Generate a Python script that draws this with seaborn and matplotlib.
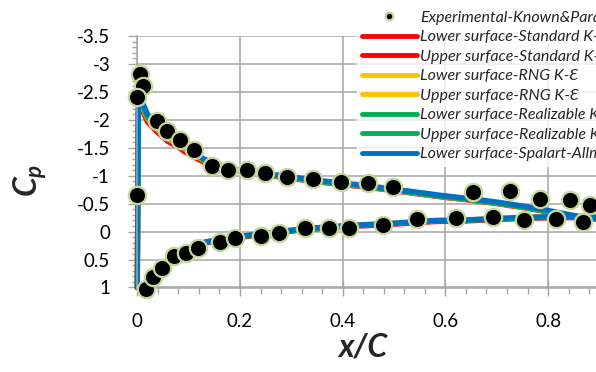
from matplotlib import pyplot as plt
from matplotlib.lines import Line2D
import numpy as np
import pandas as pd
import seaborn as sns

# experimental points (x/C, Cp)
exp_up_x = [0.0, 0.005, 0.012, 0.0, 0.038, 0.057, 0.083, 0.111, 0.145, 0.176, 0.213, 0.249, 0.292,
            0.343, 0.397, 0.450, 0.497, 0.654, 0.726, 0.784, 0.842, 0.881]
exp_up_cp = [-0.65, -2.82, -2.60, -2.41, -1.98, -1.80, -1.64, -1.46, -1.17, -1.10, -1.10, -1.04, -0.98,
             -0.95, -0.89, -0.87, -0.79, -0.71, -0.73, -0.59, -0.56, -0.47]
exp_lo_x = [0.016, 0.031, 0.048, 0.072, 0.095, 0.119, 0.161, 0.190, 0.240, 0.276, 0.327, 0.374,
            0.413, 0.479, 0.544, 0.621, 0.693, 0.754, 0.815, 0.868]
exp_lo_cp = [1.02, 0.81, 0.65, 0.44, 0.38, 0.30, 0.18, 0.11, 0.08, 0.02, -0.06, -0.07,
             -0.06, -0.12, -0.22, -0.25, -0.26, -0.20, -0.22, -0.18]

# CFD upper surface
up_x = [0, 0.002, 0.006, 0.02, 0.04, 0.06, 0.08, 0.10, 0.13, 0.17, 0.2, 0.25, 0.3, 0.35, 0.4,
        0.45, 0.5, 0.55, 0.6, 0.65, 0.7, 0.75, 0.8, 0.85, 0.9]
up_sa = [1.0, -2.30, -2.40, -2.10, -1.88, -1.72, -1.62, -1.48, -1.30, -1.16, -1.10, -1.04, -0.98,
         -0.92, -0.87, -0.82, -0.76, -0.70, -0.64, -0.59, -0.53, -0.46, -0.38, -0.29, -0.22]
up_std = [1.0, -2.12, -2.25, -1.96, -1.77, -1.61, -1.51, -1.38, -1.24, -1.13, -1.08, -1.01, -0.95,
          -0.89, -0.84, -0.79, -0.73, -0.67, -0.61, -0.56, -0.50, -0.43, -0.35, -0.27, -0.21]
up_rng = [1.0, -2.18, -2.30, -2.02, -1.82, -1.66, -1.56, -1.43, -1.27, -1.14, -1.09, -1.02, -0.96,
          -0.90, -0.85, -0.80, -0.74, -0.68, -0.62, -0.57, -0.51, -0.44, -0.36, -0.28, -0.21]
up_real = [1.0, -2.22, -2.34, -2.04, -1.84, -1.68, -1.58, -1.44, -1.28, -1.15, -1.09, -1.02, -0.96,
           -0.90, -0.85, -0.80, -0.74, -0.68, -0.62, -0.57, -0.51, -0.44, -0.36, -0.28, -0.21]

# CFD lower surface
lo_x = [0, 0.005, 0.015, 0.03, 0.045, 0.065, 0.09, 0.11, 0.13, 0.17, 0.22, 0.26, 0.32, 0.41,
        0.48, 0.58, 0.64, 0.71, 0.77, 0.83, 0.9]
lo_sa = [1.0, 0.98, 0.93, 0.78, 0.62, 0.46, 0.34, 0.27, 0.19, 0.12, 0.06, 0.02, -0.05, -0.11,
         -0.14, -0.20, -0.21, -0.24, -0.26, -0.27, -0.26]
lo_std = [1.0, 0.99, 0.95, 0.80, 0.64, 0.48, 0.36, 0.29, 0.21, 0.14, 0.08, 0.04, -0.03, -0.09,
          -0.12, -0.18, -0.19, -0.22, -0.24, -0.25, -0.24]
lo_rng = lo_sa
lo_real = [1.0, 0.98, 0.94, 0.79, 0.63, 0.47, 0.35, 0.28, 0.20, 0.13, 0.07, 0.03, -0.04, -0.10,
           -0.13, -0.19, -0.20, -0.23, -0.25, -0.26, -0.25]

labels = ["Experimental-Known&Parameters",
          "Lower surface-Standard K-Ɛ", "Upper surface-Standard K-Ɛ",
          "Lower surface-RNG K-Ɛ", "Upper surface-RNG K-Ɛ",
          "Lower surface-Realizable K-Ɛ", "Upper surface-Realizable K-Ɛ",
          "Lower surface-Spalart-Allmaras"]

sns.set_style("white")
plt.rcParams['font.family'] = ['Lato', 'DejaVu Sans']
plt.rcParams['mathtext.fontset'] = 'custom'
plt.rcParams['mathtext.it'] = 'Lato:bold:italic'
plt.rcParams['mathtext.rm'] = 'Lato:bold'

fig = plt.figure(figsize=(5.96, 3.72), dpi=100)
ax = fig.add_axes([137.3 / 596, 1 - 287.5 / 372, 513.5 / 596, (287.5 - 36) / 372])

models = [("#FF0000", up_std, lo_std), ("#FFC000", up_rng, lo_rng),
          ("#00B050", up_real, lo_real), ("#0070C0", up_sa, lo_sa)]
for col, up, lo in models:
    sns.lineplot(x=lo_x, y=lo, color=col, lw=3.8, sort=False, estimator=None, ax=ax,
                 zorder=2, clip_on=False)
    sns.lineplot(x=up_x, y=up, color=col, lw=3.8, sort=False, estimator=None, ax=ax,
                 zorder=2, clip_on=False)

exp = pd.DataFrame({"x": exp_up_x + exp_lo_x, "cp": exp_up_cp + exp_lo_cp})
sns.scatterplot(data=exp, x="x", y="cp", s=155, color="black", edgecolor="#C4D79B",
                linewidth=1.6, ax=ax, zorder=5, clip_on=False)

ax.set_xlim(0, 1)
ax.set_ylim(1, -3.5)
ax.set_xticks(np.arange(0, 0.81, 0.2))
ax.set_xticklabels(["0", "0.2", "0.4", "0.6", "0.8"])
ax.set_xticks(np.arange(0, 1.01, 0.04), minor=True)
yt = np.arange(-3.5, 1.01, 0.5)
ax.set_yticks(yt)
ax.set_yticklabels(["%g" % v for v in yt])
ax.set_yticks(np.arange(-3.5, 1.01, 0.1), minor=True)
ax.set_xlabel("")
ax.set_ylabel("")

gc = "#A6A6A6"
ax.grid(True, which="major", color=gc, lw=1.1)
ax.axvline(1.0, color=gc, lw=1.1)
for s in ["top", "right"]:
    ax.spines[s].set_visible(False)
for s in ["left", "bottom"]:
    ax.spines[s].set_color(gc)
    ax.spines[s].set_linewidth(1.1)
ax.tick_params(axis="y", which="major", direction="out", length=6.5, width=1, color=gc,
               labelsize=13.5, pad=13, left=True, labelcolor="black")
ax.tick_params(axis="y", which="minor", direction="out", length=3.5, width=1, color=gc, left=True)
ax.tick_params(axis="x", which="major", direction="inout", length=11, width=1, color=gc,
               labelsize=13.5, pad=13, bottom=True, labelcolor="black")
ax.tick_params(axis="x", which="minor", direction="out", length=4, width=1, color=gc, bottom=True)

handles = [Line2D([], [], ls="none", marker="o", markersize=5.5, markerfacecolor="black",
                  markeredgecolor="#C4D79B", markeredgewidth=1.6)]
for col in ["#FF0000", "#FF0000", "#FFC000", "#FFC000", "#00B050", "#00B050", "#0070C0"]:
    handles.append(Line2D([], [], color=col, lw=3.5))
leg = ax.legend(handles, labels, loc="upper left", bbox_to_anchor=(357 / 596, 1 - 6 / 372),
                bbox_transform=fig.transFigure, frameon=True, fancybox=False,
                prop={"style": "italic", "size": 11.5}, handlelength=3.44, handletextpad=0.19,
                labelspacing=0.33, borderpad=0.3, borderaxespad=0)
leg.get_frame().set_facecolor("white")
leg.get_frame().set_edgecolor("white")
leg.set_zorder(10)

fig.text(30 / 596, 1 - 180 / 372, r"$C_p$", rotation=90, ha="center", va="center", fontsize=23)
fig.text(363 / 596, 1 - 347 / 372, "x/C", ha="center", va="center", fontsize=23,
         fontweight="bold", fontstyle="italic")

plt.savefig("out.png", dpi=100)
